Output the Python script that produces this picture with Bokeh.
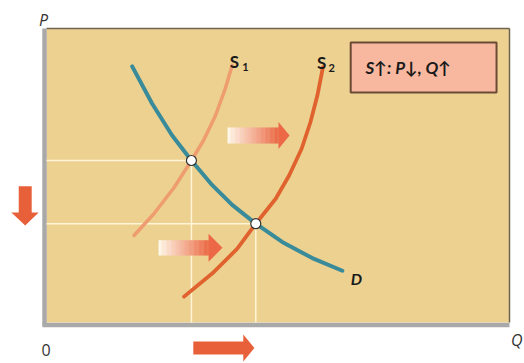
from bokeh.plotting import figure
from bokeh.models import Range1d, Label
from bokeh.embed import file_html
from bokeh.resources import INLINE

# ---- data (Q and P on a 0-100 scale) ----
demand_q = [18.5, 22.8, 27.1, 31.3, 35.8, 40.1, 45.2, 50.9, 57.4, 63.9]
demand_p = [87.1, 74.5, 63.7, 55.1, 46.7, 40.0, 33.6, 27.4, 21.9, 17.6]

supply1_q = [18.9, 23.2, 27.6, 31.3, 33.9, 36.5, 38.6, 40.1]
supply1_p = [29.6, 37.0, 46.0, 55.1, 61.9, 70.4, 79.5, 87.4]

supply2_q = [29.7, 36.1, 41.2, 45.2, 49.5, 52.4, 55.1, 57.0, 58.5, 59.7]
supply2_p = [8.8, 17.1, 25.1, 33.6, 42.1, 50.0, 59.1, 68.1, 77.2, 86.8]

eq_q = [31.3, 45.2]
eq_p = [55.1, 33.6]

axis_max = 100
summary_text = "S↑: P↓, Q↑"

# ---- figure: the frame covers the whole canvas so outside labels/arrows are not clipped ----
p = figure(width=524, height=363, x_range=Range1d(-9.94, 103.24), y_range=Range1d(-13.95, 109.52),
           output_backend="svg", toolbar_location=None, x_axis_type=None, y_axis_type=None,
           min_border=0)
p.background_fill_color = "white"
p.border_fill_color = "white"
p.outline_line_color = None

# plot panel
p.quad(left=[0], right=[axis_max], bottom=[0], top=[axis_max], fill_color="#ECD190", line_color=None)
p.segment(x0=[0, axis_max], y0=[axis_max, 0], x1=[axis_max, axis_max], y1=[axis_max, axis_max],
          line_color="#6F6552", line_width=1.5)
p.segment(x0=[-0.43, -0.9], y0=[-0.85, -0.85], x1=[-0.43, axis_max], y1=[axis_max, -0.85],
          line_color="#A9A9A9", line_width=4.5)

# guide lines
guide = "#FFF5D6"
p.segment(x0=[0] * len(eq_q), y0=eq_p, x1=eq_q, y1=eq_p, line_color=guide, line_width=1.5)
p.segment(x0=eq_q, y0=[0] * len(eq_q), x1=eq_q, y1=eq_p, line_color=guide, line_width=1.5)

# gradient arrows inside the plot
def grad_arrow(x0, x1, tip, yc, shaft_h, head_h, n=40):
    c0 = (255, 249, 238)
    c1 = (236, 104, 70)
    w = (x1 - x0) / n
    lefts, rights, cols = [], [], []
    for i in range(n):
        t = i / (n - 1)
        r = int(c0[0] + (c1[0] - c0[0]) * t)
        g = int(c0[1] + (c1[1] - c0[1]) * t)
        b = int(c0[2] + (c1[2] - c0[2]) * t)
        lefts.append(x0 + i * w)
        rights.append(x0 + (i + 1) * w + 0.05)
        cols.append("#%02x%02x%02x" % (r, g, b))
    p.quad(left=lefts, right=rights, bottom=[yc - shaft_h / 2] * n, top=[yc + shaft_h / 2] * n,
           fill_color=cols, line_color=None)
    p.patch(x=[x1, tip, x1], y=[yc + head_h / 2, yc, yc - head_h / 2],
            fill_color="#EC6846", line_color=None)

grad_arrow(39.1, 50.1, 52.5, 63.6, 5.4, 9.2)
grad_arrow(24.2, 35.0, 38.0, 25.4, 5.2, 9.5)

# curves
p.line(supply1_q, supply1_p, line_color="#EE9C70", line_width=3.5, line_cap="round", line_join="round")
p.line(supply2_q, supply2_p, line_color="#E0622F", line_width=3.8, line_cap="round", line_join="round")
p.line(demand_q, demand_p, line_color="#3A8B9A", line_width=4, line_cap="round", line_join="round")

p.scatter(eq_q, eq_p, size=10, fill_color="white", line_color="#333333", line_width=1.2)

# summary box
p.quad(left=[65.7], right=[97.2], bottom=[78.2], top=[95.2],
       fill_color="#F8B8A0", line_color="#6B4A35", line_width=2)
p.add_layout(Label(x=68.9, y=86.7, text=summary_text, text_font="Lato", text_font_style="bold italic",
                   text_font_size="17px", text_color="#1a1a1a", text_baseline="middle"))

# solid arrows outside the panel
arrow_col = "#E8603A"
p.patch(x=[-6.0, -3.2, -3.2, -1.7, -4.6, -7.6, -6.0],
        y=[46.3, 46.3, 37.4, 37.4, 33.0, 37.4, 37.4],
        fill_color=arrow_col, line_color=None)
p.patch(x=[31.7, 42.5, 42.5, 44.9, 42.5, 42.5, 31.7],
        y=[-6.5, -6.5, -4.1, -8.7, -13.3, -10.9, -10.9],
        fill_color=arrow_col, line_color=None)

# labels
dark = "#1a1a1a"
def lab(x, y, t, size, style="bold", font="Lato", color=dark):
    p.add_layout(Label(x=x, y=y, text=t, text_font=font, text_font_style=style,
                       text_font_size=size, text_color=color, text_baseline="alphabetic"))

lab(39.6, 88.8, "S", "17px")
lab(42.3, 87.0, "1", "11px")
lab(58.4, 88.4, "S", "17px")
lab(60.9, 86.6, "2", "11px")
lab(65.7, 15.0, "D", "16px", "bold italic")
lab(-1.6, 102.9, "P", "16px", "italic", "Open Sans", "#333333")
lab(100.3, -5.8, "Q", "16px", "italic", "Open Sans", "#333333")
lab(-1.1, -9.4, "0", "16px", "normal", "Open Sans", "#333333")

open("out.html", "w").write(file_html(p, INLINE))
